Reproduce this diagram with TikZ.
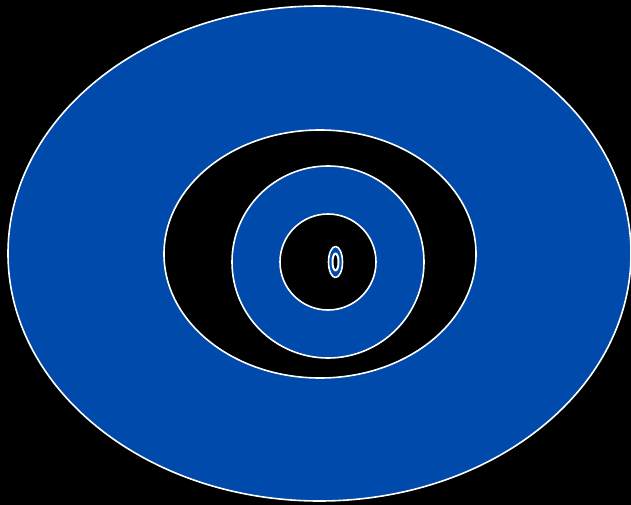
\documentclass[tikz,border=0pt]{standalone}
\usetikzlibrary{positioning}
\definecolor{ringblue}{HTML}{004AAB}

\begin{document}
\begin{tikzpicture}[
  x=1pt,
  y=-1pt,
  line join=round,
  bluering/.style={fill=ringblue,draw=white,line width=1.6pt},
  blackring/.style={fill=black,draw=white,line width=1.6pt}
]
  % Background and fixed bounding box.
  \fill[black] (0,0) rectangle (631,505);
  \useasboundingbox (0,0) rectangle (631,505);

  % Outer ellipses.
  \coordinate (Couter) at (319.5,253.5);
  \path[bluering] (Couter) ellipse[x radius=311.5,y radius=247.5];
  \coordinate (Cmid) at (320,254);
  \path[blackring] (Cmid) ellipse[x radius=156,y radius=124];

  % Inner circles.
  \coordinate (Cin) at (328,262);
  \path[bluering] (Cin) circle[radius=96];
  \path[blackring] (Cin) circle[radius=48];

  % Tiny eye in the centre.
  \coordinate (Ceye) at (335.5,262);
  \path[bluering] (Ceye) ellipse[x radius=7,y radius=15.5];
  \path[blackring,line width=2pt] (Ceye) ellipse[x radius=3,y radius=8.5];
\end{tikzpicture}
\end{document}
